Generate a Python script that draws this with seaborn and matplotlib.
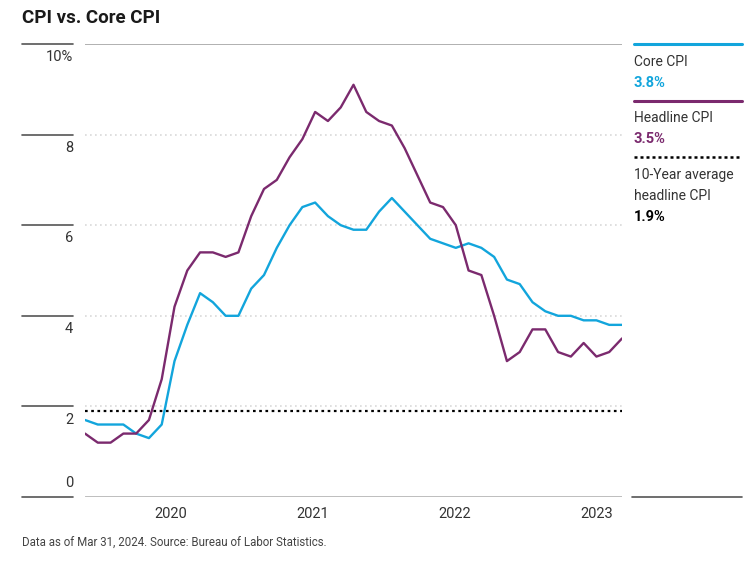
import matplotlib
matplotlib.use("Agg")
import matplotlib.pyplot as plt
import matplotlib.transforms as mtransforms
from matplotlib.lines import Line2D
import pandas as pd
import numpy as np
import seaborn as sns

# monthly readings, Sep 2020 .. Mar 2024 (year-over-year %)
core_cpi = [1.7, 1.6, 1.6, 1.6, 1.4, 1.3, 1.6, 3.0, 3.8, 4.5,
            4.3, 4.0, 4.0, 4.6, 4.9, 5.5, 6.0, 6.4, 6.5, 6.2,
            6.0, 5.9, 5.9, 6.3, 6.6, 6.3, 6.0, 5.7, 5.6, 5.5,
            5.6, 5.5, 5.3, 4.8, 4.7, 4.3, 4.1, 4.0, 4.0, 3.9,
            3.9, 3.8, 3.8]
headline_cpi = [1.4, 1.2, 1.2, 1.4, 1.4, 1.7, 2.6, 4.2, 5.0, 5.4,
                5.4, 5.3, 5.4, 6.2, 6.8, 7.0, 7.5, 7.9, 8.5, 8.3,
                8.6, 9.1, 8.5, 8.3, 8.2, 7.7, 7.1, 6.5, 6.4, 6.0,
                5.0, 4.9, 4.0, 3.0, 3.2, 3.7, 3.7, 3.2, 3.1, 3.4,
                3.1, 3.2, 3.5]
avg_10yr = 1.9

year_labels = ["2020", "2021", "2022", "2023"]
year_pos = [6.7, 17.8, 28.9, 40.0]
y_ticks = [0, 2, 4, 6, 8, 10]

BLUE = "#12A5DC"
PURPLE = "#7B2A6E"
TXT = "#333333"

sns.set_style("white")
plt.rcParams["font.family"] = ["Roboto", "DejaVu Sans"]

n = len(core_cpi)
df = pd.DataFrame({
    "month": list(range(n)) * 2,
    "value": core_cpi + headline_cpi,
    "series": ["Core CPI"] * n + ["Headline CPI"] * n,
})

fig = plt.figure(figsize=(7.56, 5.61), dpi=100)
W, H = 756, 561
ax = fig.add_axes([85 / W, 1 - 497 / H, (622 - 85) / W, (497 - 44) / H])

# gridlines
for v in y_ticks[1:-1]:
    ax.axhline(v, color="#d9d9d9", lw=1.2, ls=(0, (1, 2)), zorder=0)
ax.axhline(10, color="#aaaaaa", lw=1.3, zorder=0)
ax.axhline(0, color="#aaaaaa", lw=1.8, zorder=0)

ax.axhline(avg_10yr, color="black", lw=1.6, ls=(0, (1.2, 1.6)), zorder=1)

sns.lineplot(data=df, x="month", y="value", hue="series",
             palette={"Core CPI": BLUE, "Headline CPI": PURPLE},
             linewidth=1.7, legend=False, ax=ax, zorder=3)

ax.set_xlim(0, n - 1)
ax.set_ylim(0, 10)
sns.despine(ax=ax, left=True, bottom=True, top=True, right=True)
ax.set_xlabel("")
ax.set_ylabel("")
ax.set_yticks([])
ax.set_xticks(year_pos)
ax.set_xticklabels(year_labels, fontsize=10.5, color=TXT)
ax.tick_params(axis="x", length=0, pad=7)

# left side tick lines + labels
trans = mtransforms.blended_transform_factory(ax.transAxes, ax.transData)
x0 = (22 - 85) / 537
x1 = (73 - 85) / 537
for v in y_ticks:
    ax.plot([x0, x1], [v, v], color="#555555", lw=1.2, transform=trans,
            clip_on=False)
    lab = f"{v}%" if v == 10 else f"{v}"
    if v == 0:
        ax.annotate(lab, xy=(x1, v), xycoords=trans, xytext=(0, 5),
                    textcoords="offset points", ha="right", va="bottom",
                    fontsize=10.5, color=TXT)
    else:
        ax.annotate(lab, xy=(x1, v), xycoords=trans, xytext=(0, -4.5),
                    textcoords="offset points", ha="right", va="top",
                    fontsize=10.5, color=TXT)

# title + source
fig.text(22 / W, 1 - 18 / H, "CPI vs. Core CPI", fontsize=13.5,
         fontweight="bold", color="#1a1a1a", ha="left", va="center")
fig.text(22 / W, 1 - 542 / H,
         "Data as of Mar 31, 2024. Source: Bureau of Labor Statistics.",
         fontsize=8.3, color="#444444", ha="left", va="center")

# legend on the right
lx0, lx1 = 634 / W, 742 / W
LF = 10
fig.add_artist(Line2D([lx0, lx1], [1 - 44 / H] * 2, color=BLUE, lw=2.2))
fig.text(lx0, 1 - 62 / H, "Core CPI", fontsize=LF, color=TXT, va="center")
fig.text(lx0, 1 - 83 / H, f"{core_cpi[-1]:.1f}%", fontsize=LF + 0.5,
         fontweight="bold", color=BLUE, va="center")

fig.add_artist(Line2D([lx0, lx1], [1 - 101 / H] * 2, color=PURPLE, lw=2.2))
fig.text(lx0, 1 - 118 / H, "Headline CPI", fontsize=LF, color=TXT,
         va="center")
fig.text(lx0, 1 - 139 / H, f"{headline_cpi[-1]:.1f}%", fontsize=LF + 0.5,
         fontweight="bold", color=PURPLE, va="center")

fig.add_artist(Line2D([lx0, lx1], [1 - 157 / H] * 2, color="black", lw=1.8,
                      ls=(0, (1.2, 1.2))))
fig.text(lx0, 1 - 175 / H, "10-Year average", fontsize=LF, color=TXT,
         va="center")
fig.text(lx0, 1 - 196 / H, "headline CPI", fontsize=LF, color=TXT,
         va="center")
fig.text(lx0, 1 - 217 / H, f"{avg_10yr:.1f}%", fontsize=LF + 0.5,
         fontweight="bold", color="black", va="center")

fig.add_artist(Line2D([632 / W, lx1], [1 - 497 / H] * 2, color="#555555",
                      lw=1.2))

fig.savefig("out.png", dpi=100)
